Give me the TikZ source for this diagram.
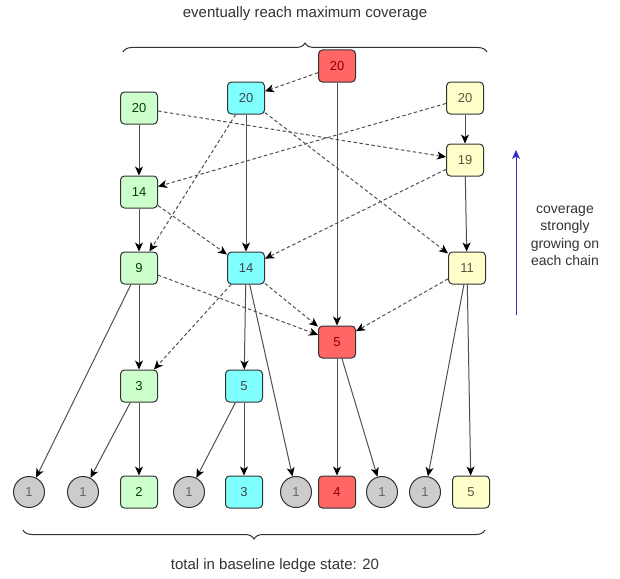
\documentclass[tikz,border=0pt]{standalone}
\usepackage{fontspec}
\setmainfont{Liberation Sans}
\usetikzlibrary{arrows.meta,decorations.pathreplacing}

\definecolor{grfill}{HTML}{CCFFCC}
\definecolor{cyfill}{HTML}{80FFFF}
\definecolor{rdfill}{HTML}{FF6666}
\definecolor{ywfill}{HTML}{FFFFCC}
\definecolor{gyfill}{HTML}{CCCCCC}
\definecolor{edgegray}{HTML}{505050}
\definecolor{arrowblue}{HTML}{2E2EC8}

\tikzset{
  box/.style={draw=black!80, line width=1pt, rounded corners=4pt, minimum width=37pt, minimum height=32pt, inner sep=0pt, font=\fontsize{13}{15}\selectfont},
  grbox/.style={box, fill=grfill, text=green!25!black},
  cybox/.style={box, fill=cyfill, text=cyan!20!black},
  rdbox/.style={box, fill=rdfill, text=red!55!black},
  ywbox/.style={box, fill=ywfill, text=yellow!25!black},
  leaf/.style={circle, draw=black!80, line width=1pt, fill=gyfill, minimum size=31pt, inner sep=0pt, text=black!60, font=\fontsize{13}{15}\selectfont},
  link/.style={draw=edgegray, line width=1pt, -{Stealth[length=9pt,width=8pt,inset=2.5pt,color=black]}},
  hint/.style={link, dashed, dash pattern=on 3.5pt off 2.5pt},
  caption/.style={text=black!80, font=\fontsize{15}{17.5}\selectfont}
}

\begin{document}
\begin{tikzpicture}[x=1pt,y=-1pt]
\useasboundingbox (0,0) rectangle (620,578);

% chains
\node[rdbox] (r20) at (337,66) {20};
\node[cybox] (c20) at (246,98) {20};
\node[grbox] (g20) at (139,108) {20};
\node[ywbox] (y20) at (465,98) {20};
\node[ywbox] (y19) at (465,160) {19};
\node[grbox] (g14) at (139,192) {14};
\node[grbox] (g9) at (139,268) {9};
\node[cybox] (c14) at (246,268) {14};
\node[ywbox] (y11) at (467,268) {11};
\node[rdbox] (r5) at (337,342) {5};
\node[grbox] (g3) at (139,386) {3};
\node[cybox] (c5) at (244,386) {5};

% baseline
\node[leaf] (o1) at (29,492) {1};
\node[leaf] (o2) at (83,492) {1};
\node[grbox] (g2) at (139,492) {2};
\node[leaf] (o3) at (189,492) {1};
\node[cybox] (c3) at (244,492) {3};
\node[leaf] (o4) at (296,492) {1};
\node[rdbox] (r4) at (337,492) {4};
\node[leaf] (o5) at (382,492) {1};
\node[leaf] (o6) at (425,492) {1};
\node[ywbox] (y5) at (471,492) {5};

% texts
\node[caption] (top) at (305,14) {eventually reach maximum coverage};
\node[caption] (bot) at (275,566) {total in baseline ledge state: 20};
\node[caption, font=\fontsize{14}{17.5}\selectfont, align=center] (side) at (565,236) {coverage\\strongly\\growing on\\each chain};

\coordinate (tl) at (123,52);
\coordinate (tr) at (487,52);
\coordinate (bl) at (23,530);
\coordinate (br) at (485,530);
\coordinate (up1) at (516,315);
\coordinate (up2) at (516,150);

\draw[black!80, line width=1pt, decorate, decoration={brace, amplitude=9pt}] (tl) -- (tr);
\draw[black!80, line width=1pt, decorate, decoration={brace, amplitude=9pt, mirror}] (bl) -- (br);
\draw[arrowblue, line width=0.9pt, -{Stealth[length=9pt,width=8pt,inset=2.5pt]}] (up1) -- (up2);

% solid links
\draw[link] (g20) -- (g14);
\draw[link] (g14) -- (g9);
\draw[link] (g9) -- (g3);
\draw[link] (g3) -- (g2);
\draw[link] (g9) -- (o1);
\draw[link] (g3) -- (o2);
\draw[link] (c20) -- (c14);
\draw[link] (c14) -- (c5);
\draw[link] (c5) -- (c3);
\draw[link] (c5) -- (o3);
\draw[link] (c14) -- (o4);
\draw[link] (r20) -- (r5);
\draw[link] (r5) -- (r4);
\draw[link] (r5) -- (o5);
\draw[link] (y20) -- (y19);
\draw[link] (y19) -- (y11);
\draw[link] (y11) -- (y5);
\draw[link] (y11) -- (o6);

% dashed links
\draw[hint] (r20) -- (c20);
\draw[hint] (g20) -- (y19);
\draw[hint] (y20) -- (g14);
\draw[hint] (c20) -- (g9);
\draw[hint] (c20) -- (y11);
\draw[hint] (g14) -- (c14);
\draw[hint] (y19) -- (c14);
\draw[hint] (g9) -- (r5);
\draw[hint] (c14) -- (r5);
\draw[hint] (y11) -- (r5);
\draw[hint] (c14) -- (g3);

\end{tikzpicture}
\end{document}
